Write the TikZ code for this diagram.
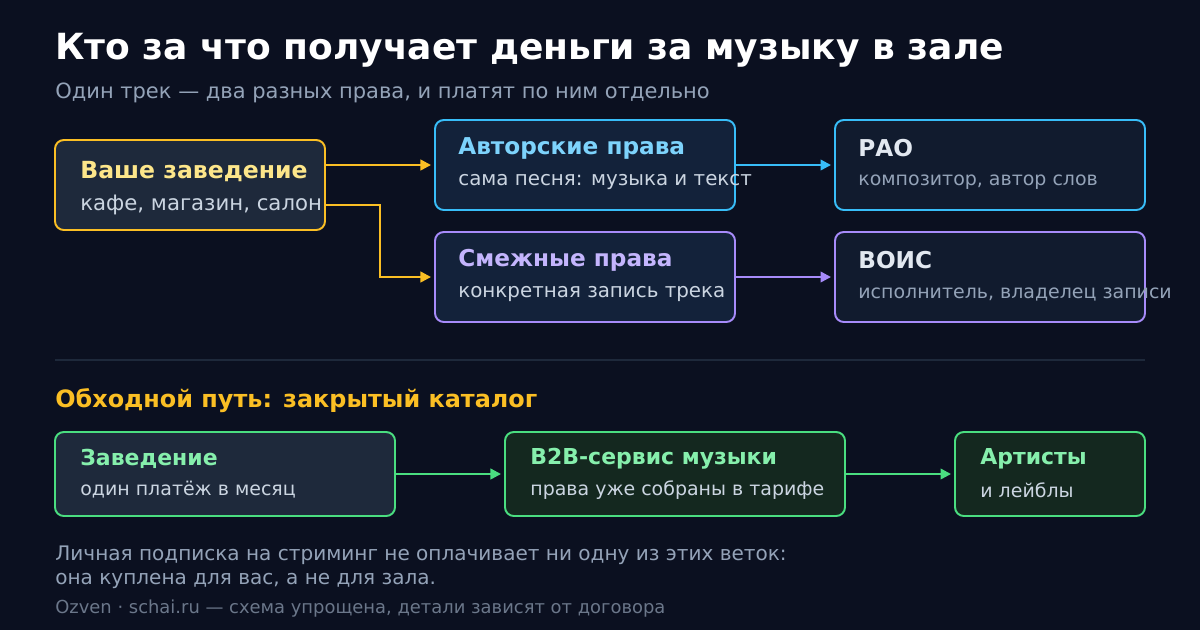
\documentclass[tikz,border=0pt]{standalone}
\usepackage{fontspec}
\setmainfont{DejaVu Sans}
\usetikzlibrary{arrows.meta}
\definecolor{bg}{HTML}{0B1020}
\definecolor{yel}{HTML}{FBBF24}
\definecolor{yelt}{HTML}{FDE68A}
\definecolor{blu}{HTML}{38BDF8}
\definecolor{blut}{HTML}{7DD3FC}
\definecolor{pur}{HTML}{A78BFA}
\definecolor{purt}{HTML}{C4B5FD}
\definecolor{grn}{HTML}{4ADE80}
\definecolor{grnt}{HTML}{86EFAC}
\definecolor{txt}{HTML}{CBD5E1}
\definecolor{mut}{HTML}{94A3B8}
\definecolor{wt}{HTML}{E2E8F0}
\definecolor{f1}{HTML}{1E293B}
\definecolor{f2}{HTML}{13223A}
\definecolor{f3}{HTML}{111B2E}
\definecolor{f4}{HTML}{14281F}
\begin{document}
\begin{tikzpicture}[x=0.02cm,y=-0.02cm,
  box/.style={draw,line width=1.1pt,rounded corners=5pt},
  hd/.style={anchor=west,font=\fontsize{13.2}{15}\selectfont\bfseries,inner sep=0},
  hdg/.style={anchor=west,font=\fontsize{12.5}{15}\selectfont\bfseries,inner sep=0,text=grnt},
  sb/.style={anchor=west,font=\fontsize{11.3}{14}\selectfont,text=txt,inner sep=0},
  sbm/.style={anchor=west,font=\fontsize{10.8}{14}\selectfont,text=mut,inner sep=0},
  sbg/.style={anchor=west,font=\fontsize{10.8}{14}\selectfont,text=txt,inner sep=0},
  arr/.style={line width=1.3pt,-{Triangle[length=6pt,width=6pt]}}]
\useasboundingbox (0,0) rectangle (1200,630);
\fill[bg] (0,0) rectangle (1200,630);
\node[anchor=west,text=white,font=\fontsize{20.5}{24}\selectfont\bfseries,inner sep=0] (t) at (55,50) {Кто за что получает деньги за музыку в зале};
\node[anchor=west,text=mut,font=\fontsize{11.95}{14}\selectfont,inner sep=0] (st) at (55,93) {Один трек — два разных права, и платят по ним отдельно};
% boxes
\node[box,draw=yel,fill=f1,minimum width=270*0.02cm,minimum height=90*0.02cm] (a) at (190,185) {};
\node[hd,text=yelt,font=\fontsize{13.4}{15}\selectfont\bfseries] at (80,172) {Ваше заведение};
\node[sb,font=\fontsize{12.1}{14}\selectfont] at (80,205) {кафе, магазин, салон};
\node[box,draw=blu,fill=f2,minimum width=300*0.02cm,minimum height=90*0.02cm] (b) at (585,165) {};
\node[hd,text=blut] at (458,148) {Авторские права};
\node[sb] at (458,182) {сама песня: музыка и текст};
\node[box,draw=blu,fill=f3,minimum width=310*0.02cm,minimum height=90*0.02cm] (c) at (990,165) {};
\node[hd,text=wt] at (858,148) {РАО};
\node[sbm] at (858,182) {композитор, автор слов};
\node[box,draw=pur,fill=f2,minimum width=300*0.02cm,minimum height=90*0.02cm] (d) at (585,277) {};
\node[hd,text=purt] at (458,260) {Смежные права};
\node[sb] at (458,294) {конкретная запись трека};
\node[box,draw=pur,fill=f3,minimum width=310*0.02cm,minimum height=90*0.02cm] (e) at (990,277) {};
\node[hd,text=wt] at (858,260) {ВОИС};
\node[sbm] at (858,294) {исполнитель, владелец записи};
\draw[arr,yel] ([yshift=20*0.02cm]a.east) -- ([xshift=-3*0.02cm]b.west);
\draw[arr,yel] ([yshift=-20*0.02cm]a.east) -| (380,277) -- ([xshift=-3*0.02cm]d.west);
\draw[arr,blu] (b.east) -- ([xshift=-3*0.02cm]c.west);
\draw[arr,pur] (d.east) -- ([xshift=-3*0.02cm]e.west);
\draw[f1,line width=1pt] (55,360) -- (1145,360);
\node[anchor=west,text=yel,font=\fontsize{13.6}{15}\selectfont\bfseries,inner sep=0] (s2) at (55,401) {Обходной путь: закрытый каталог};
\node[box,draw=grn,fill=f1,minimum width=340*0.02cm,minimum height=84*0.02cm] (g) at (225,474) {};
\node[hdg] at (80,459) {Заведение};
\node[sbg] at (80,490) {один платёж в месяц};
\node[box,draw=grn,fill=f4,minimum width=340*0.02cm,minimum height=84*0.02cm] (h) at (675,474) {};
\node[hdg] at (530,459) {B2B-сервис музыки};
\node[sbg] at (530,490) {права уже собраны в тарифе};
\node[box,draw=grn,fill=f4,minimum width=190*0.02cm,minimum height=84*0.02cm] (k) at (1050,474) {};
\node[hdg] at (980,459) {Артисты};
\node[sbg] at (980,490) {и лейблы};
\draw[arr,grn] (g.east) -- ([xshift=-3*0.02cm]h.west);
\draw[arr,grn] (h.east) -- ([xshift=-3*0.02cm]k.west);
\node[anchor=west,text=mut,font=\fontsize{11.4}{13}\selectfont,inner sep=0] (n1) at (55,555) {Личная подписка на стриминг не оплачивает ни одну из этих веток:};
\node[anchor=west,text=mut,font=\fontsize{11.4}{13}\selectfont,inner sep=0] (n2) at (55,581) {она куплена для вас, а не для зала.};
\node[anchor=west,text=mut!70!bg,font=\fontsize{10.2}{12}\selectfont,inner sep=0] (n3) at (55,609) {Ozven · schai.ru — схема упрощена, детали зависят от договора};
\end{tikzpicture}
\end{document}
